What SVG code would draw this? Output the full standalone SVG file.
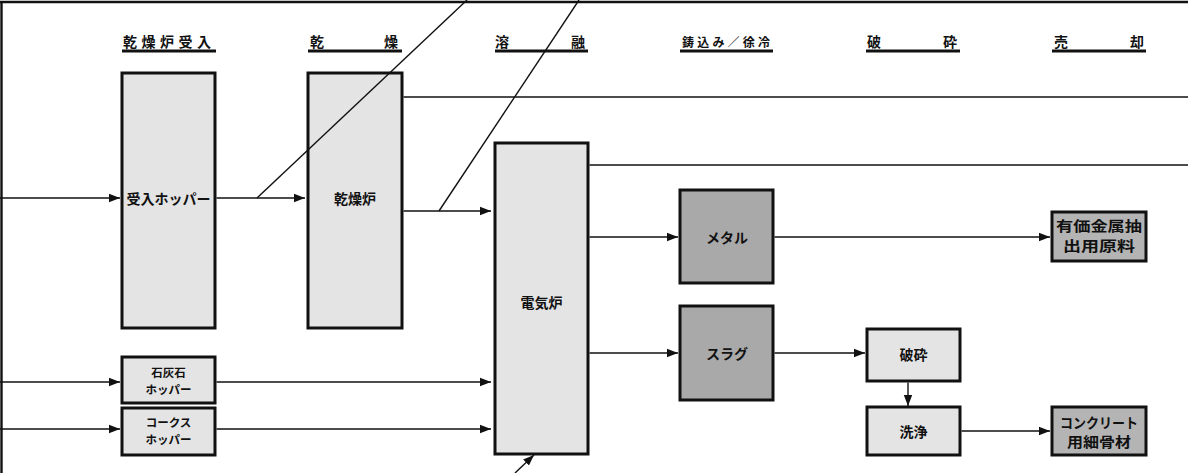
<svg xmlns="http://www.w3.org/2000/svg" width="1188" height="473" viewBox="0 0 1188 473">
<defs>
<style>
.t{font-family:"Noto Sans CJK JP","Noto Sans",sans-serif;font-weight:bold;fill:#111;}
.h{font-size:14px;}
.n{font-size:14px;text-anchor:middle;}
.s{font-size:11.5px;text-anchor:middle;}
.box{stroke:#111;stroke-width:3;fill:#e4e4e4;}
.dark{stroke:#111;stroke-width:3;fill:#a9a9a9;}
.out{stroke:#111;stroke-width:3;fill:#b4b4b4;}
.ul{stroke:#111;stroke-width:3.2;}
.c{stroke:#111;stroke-width:1.4;fill:none;}
.a{marker-end:url(#ah);}
</style>
<marker id="ah" markerUnits="userSpaceOnUse" markerWidth="12" markerHeight="10" refX="11" refY="5" orient="auto">
<path d="M0,0.8 L11,5 L0,9.2 Z" fill="#111"/>
</marker>
</defs>
<rect width="1188" height="473" fill="#ffffff"/>
<g id="frame">
<line x1="0" y1="2" x2="1188" y2="2" stroke="#111" stroke-width="2.6"/>
<line x1="1.5" y1="2" x2="1.5" y2="473" stroke="#111" stroke-width="2.4"/>
</g>
<g id="headers">
<text class="t h" x="123" y="47" textLength="88" lengthAdjust="spacing">乾燥炉受入</text>
<line class="ul" x1="122" y1="51" x2="216" y2="51"/>
<text class="t h" y="47"><tspan x="310">乾</tspan><tspan x="384">燥</tspan></text>
<line class="ul" x1="308" y1="51" x2="402" y2="51"/>
<text class="t h" y="47"><tspan x="495">溶</tspan><tspan x="571">融</tspan></text>
<line class="ul" x1="495" y1="51" x2="588" y2="51"/>
<text class="t h" x="682" y="47" textLength="88" lengthAdjust="spacing" style="font-size:12px">鋳込み／徐冷</text>
<line class="ul" x1="680" y1="51" x2="773" y2="51"/>
<text class="t h" y="47"><tspan x="867">破</tspan><tspan x="943">砕</tspan></text>
<line class="ul" x1="866" y1="51" x2="960" y2="51"/>
<text class="t h" y="47"><tspan x="1054">売</tspan><tspan x="1130">却</tspan></text>
<line class="ul" x1="1052" y1="51" x2="1146" y2="51"/>
</g>
<g id="uke-hopper">
<rect class="box" x="122" y="73" width="93" height="255"/>
<text class="t n" x="168.5" y="204">受入ホッパー</text>
</g>
<g id="kansoro">
<rect class="box" x="308" y="73" width="94" height="255"/>
<text class="t n" x="355" y="204">乾燥炉</text>
</g>
<g id="denkiro">
<rect class="box" x="495" y="143" width="93" height="311"/>
<text class="t n" x="541.5" y="308">電気炉</text>
</g>
<g id="sekkaiseki">
<rect class="box" x="122" y="357" width="93" height="46"/>
<text class="t s" x="168.5" y="377">石灰石</text>
<text class="t s" x="168.5" y="394">ホッパー</text>
</g>
<g id="coke">
<rect class="box" x="122" y="408" width="93" height="47"/>
<text class="t s" x="168.5" y="427">コークス</text>
<text class="t s" x="168.5" y="444">ホッパー</text>
</g>
<g id="metal">
<rect class="dark" x="680" y="190" width="93" height="93"/>
<text class="t n" x="727" y="243">メタル</text>
</g>
<g id="slag">
<rect class="dark" x="680" y="306" width="93" height="94"/>
<text class="t n" x="727" y="359">スラグ</text>
</g>
<g id="hasai">
<rect class="box" x="867" y="329" width="93" height="52"/>
<text class="t n" x="913.5" y="360">破砕</text>
</g>
<g id="senjo">
<rect class="box" x="867" y="407" width="93" height="48"/>
<text class="t n" x="913.5" y="437">洗浄</text>
</g>
<g id="yuka">
<rect class="out" x="1052" y="212" width="94" height="49"/>
<text class="t n" x="1099" y="231" textLength="86" lengthAdjust="spacingAndGlyphs">有価金属抽</text>
<text class="t n" x="1099" y="251" textLength="72" lengthAdjust="spacingAndGlyphs">出用原料</text>
</g>
<g id="concrete">
<rect class="out" x="1052" y="407" width="94" height="48"/>
<text class="t n" x="1099" y="428" textLength="78" lengthAdjust="spacingAndGlyphs">コンクリート</text>
<text class="t n" x="1099" y="447" textLength="64" lengthAdjust="spacingAndGlyphs">用細骨材</text>
</g>
<g id="connectors">
<line class="c a" x1="0" y1="198" x2="120" y2="198"/>
<line class="c a" x1="216.5" y1="198" x2="305" y2="198"/>
<line class="c" x1="257" y1="198" x2="467" y2="0"/>
<line class="c a" x1="403.5" y1="211" x2="491" y2="211"/>
<line class="c" x1="439" y1="211" x2="579" y2="0"/>
<line class="c" x1="403.5" y1="97" x2="1188" y2="97"/>
<line class="c" x1="589.5" y1="165" x2="1188" y2="165"/>
<line class="c a" x1="0" y1="382" x2="120" y2="382"/>
<line class="c a" x1="216.5" y1="382" x2="491" y2="382"/>
<line class="c a" x1="0" y1="429" x2="120" y2="429"/>
<line class="c a" x1="216.5" y1="429" x2="491" y2="429"/>
<line class="c a" x1="515" y1="473" x2="534" y2="455"/>
<line class="c a" x1="589.5" y1="237" x2="678" y2="237"/>
<line class="c a" x1="774.5" y1="237" x2="1050" y2="237"/>
<line class="c a" x1="589.5" y1="353" x2="678" y2="353"/>
<line class="c a" x1="774.5" y1="353" x2="865" y2="353"/>
<line class="c a" x1="908" y1="382.5" x2="908" y2="406"/>
<line class="c a" x1="961.5" y1="431" x2="1050" y2="431"/>
</g>
</svg>
